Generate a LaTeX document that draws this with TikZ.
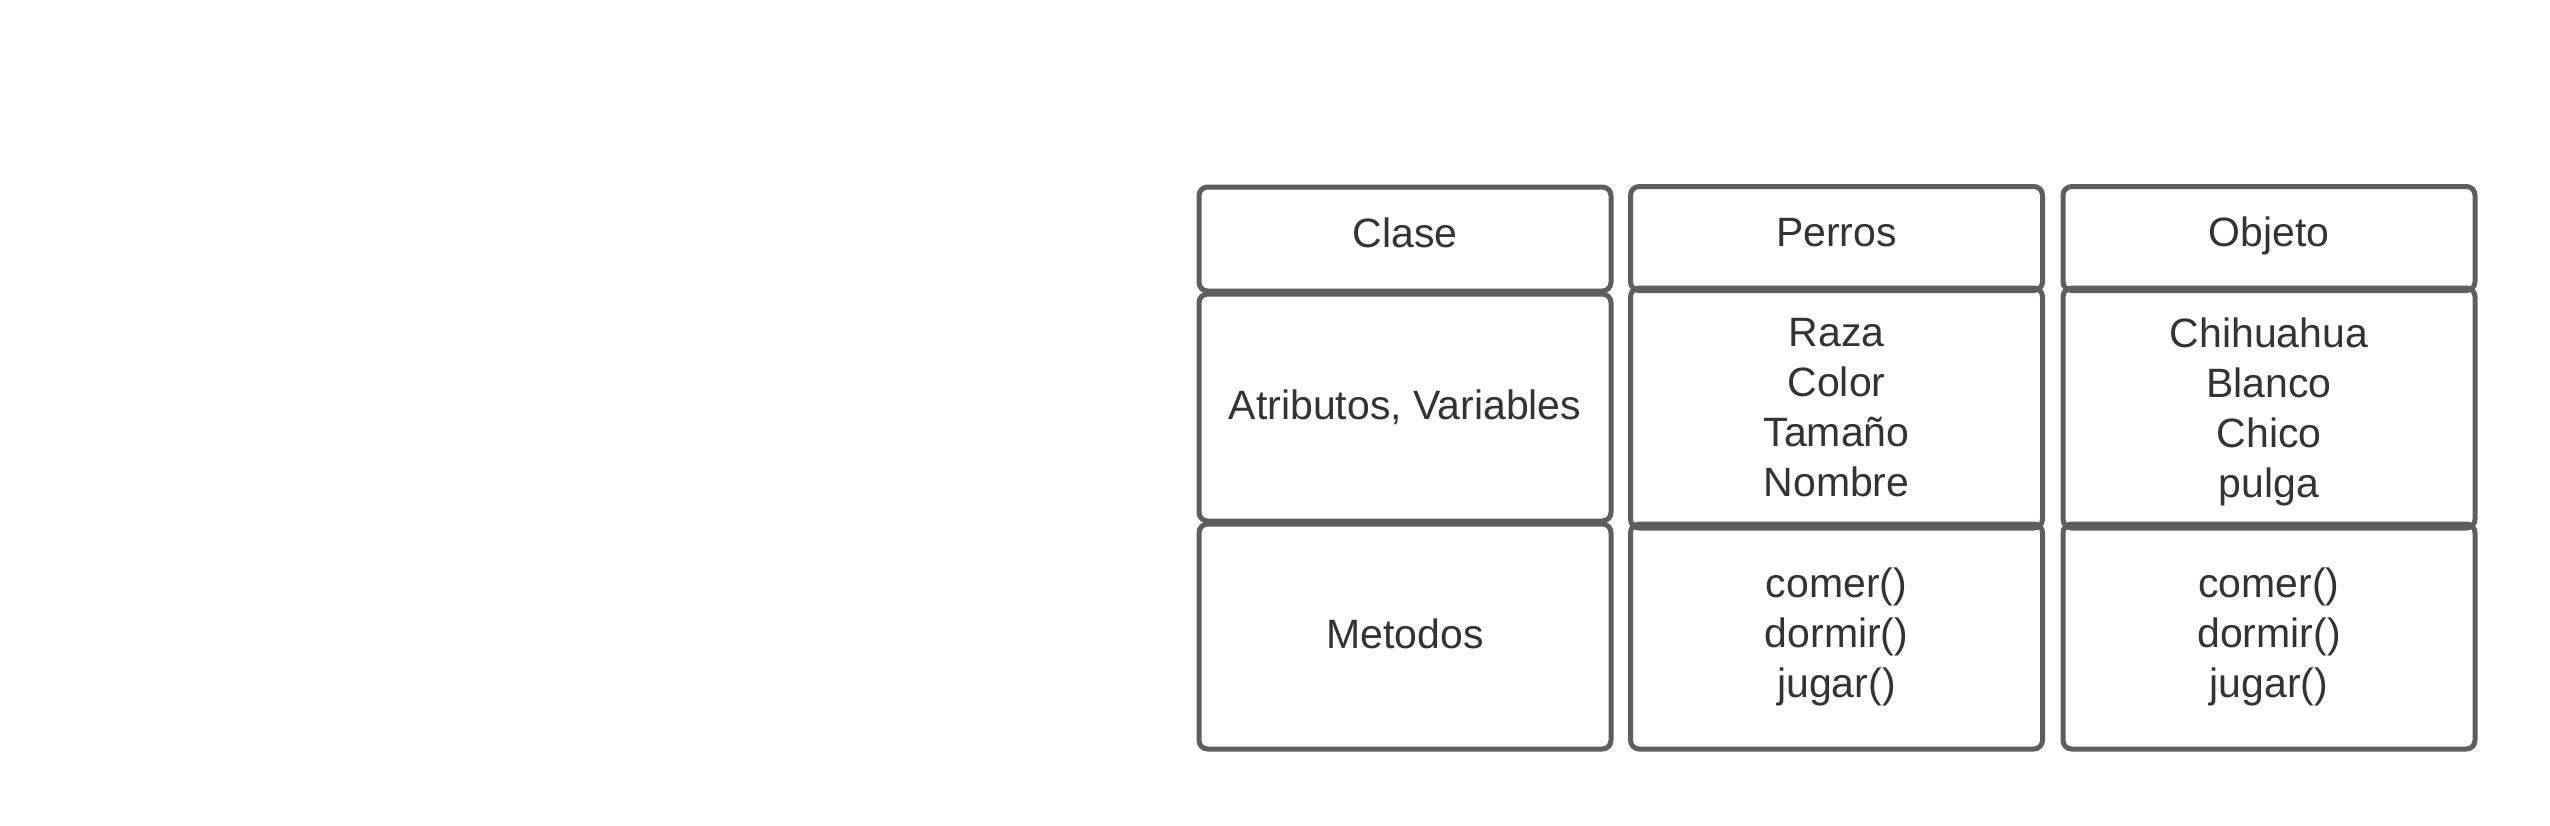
\documentclass[tikz,border=0pt]{standalone}
\usepackage{fontspec}
\setmainfont{Liberation Sans}
\definecolor{strokegray}{HTML}{5E5E5E}
\definecolor{textgray}{HTML}{333333}
\begin{document}
\begin{tikzpicture}[x=0.3pt,y=-0.3pt,
  cell/.style={draw=strokegray, line width=1.5pt, rounded corners=2.6pt,
    inner sep=0pt, align=center, text=textgray,
    font=\fontsize{12.3}{15}\selectfont, minimum width=123.6pt},
  headcell/.style={cell, minimum height=31.2pt, text height=9pt, text depth=4.2pt},
  attrcell/.style={cell, minimum height=68.1pt},
  attrcellb/.style={cell, minimum height=72pt},
  methcell/.style={cell, minimum height=67.5pt}]
\useasboundingbox (0,0) rectangle (2550,825);
% column 1
\node[headcell] (clase) at (1405,239) {Clase};
\node[attrcell] (atrib) at (1405,407.5) {Atributos, Variables};
\node[methcell, text height=9pt, text depth=2.1pt] (metod) at (1405,636.5) {Metodos};
% column 2
\node[headcell] (perros) at (1836.5,238.5) {Perros};
\node[attrcellb] (perrosattr) at (1836.5,408) {Raza\\Color\\Tamaño\\Nombre};
\node[methcell] (perrosmet) at (1836.5,636.5) {comer()\\dormir()\\jugar()};
% column 3
\node[headcell] (objeto) at (2269,238.5) {Objeto};
\node[attrcellb, text depth=0pt] (objetoattr) at (2269,408) {Chihuahua\\Blanco\\Chico\\pulga};
\node[methcell] (objetomet) at (2269,636.5) {comer()\\dormir()\\jugar()};
\end{tikzpicture}
\end{document}
